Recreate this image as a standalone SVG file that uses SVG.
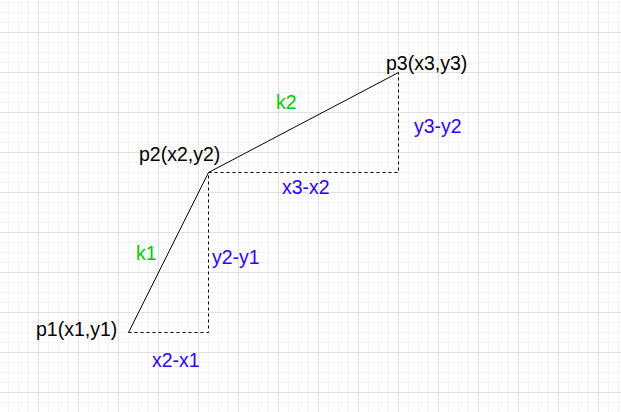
<svg xmlns="http://www.w3.org/2000/svg" width="621" height="412" viewBox="0 0 621 412">
  <style>
    .lbl { font-family: "Liberation Sans", Arial, Helvetica, sans-serif; font-size: 19.5px; }
    .pt { fill: #000000; }
    .k { fill: #00CC00; }
    .d { fill: #3300FF; }
    .solid { fill: none; stroke: #000000; stroke-width: 1; }
    .dash { fill: none; stroke: #000000; stroke-width: 1; stroke-dasharray: 3 3; }
  </style>
  <defs>
    <pattern id="grid" patternUnits="userSpaceOnUse" x="38" y="32" width="40" height="40">
      <path d="M10.5 0V40M20.5 0V40M30.5 0V40M0 10.5H40M0 20.5H40M0 30.5H40" stroke="#f4f4f4" stroke-width="1" fill="none"/>
      <path d="M0.5 0V40M0 0.5H40" stroke="#e0e0e0" stroke-width="1" fill="none"/>
    </pattern>
  </defs>
  <rect x="0" y="0" width="621" height="412" fill="#ffffff"/>
  <rect x="0" y="0" width="621" height="412" fill="url(#grid)"/>

  <g id="connectors">
    <path class="solid" d="M128.5 332.5L208.5 172.5L398.5 72.5"/>
    <path class="dash" d="M128.5 332.5H208.5V172.5"/>
    <path class="dash" d="M208.5 172.5H398.5V72.5"/>
  </g>

  <g id="p1"><text class="lbl pt" x="36" y="336">p1(x1,y1)</text></g>
  <g id="p2"><text class="lbl pt" x="139" y="161">p2(x2,y2)</text></g>
  <g id="p3"><text class="lbl pt" x="386" y="70">p3(x3,y3)</text></g>
  <g id="k1"><text class="lbl k" x="136" y="260">k1</text></g>
  <g id="k2"><text class="lbl k" x="276" y="109">k2</text></g>
  <g id="dx1"><text class="lbl d" x="152" y="367">x2-x1</text></g>
  <g id="dy1"><text class="lbl d" x="212" y="264">y2-y1</text></g>
  <g id="dx2"><text class="lbl d" x="282" y="194">x3-x2</text></g>
  <g id="dy2"><text class="lbl d" x="414" y="133">y3-y2</text></g>
</svg>
